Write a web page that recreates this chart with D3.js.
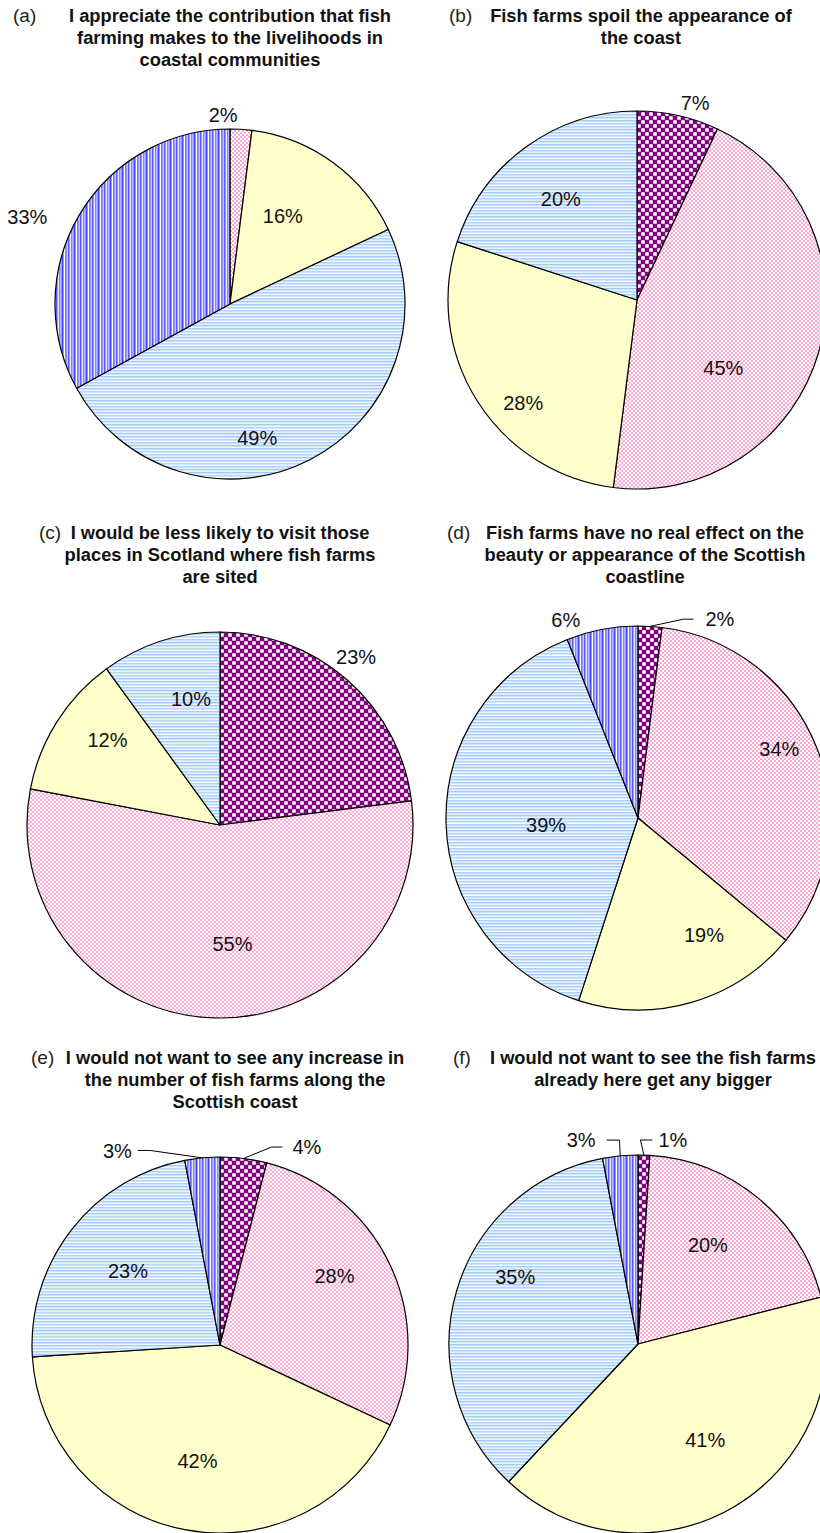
<html lang="en">
<head>
<meta charset="utf-8">
<title>Attitudes to fish farming</title>
<script src="https://d3js.org/d3.v7.min.js"></script>
<style>
  body { margin: 0; background: #fff; }
  text { font-family: "Liberation Sans", Arial, Helvetica, sans-serif; }
</style>
</head>
<body>
<svg id="chart" width="820" height="1533"></svg>
<script>
// response categories, in clockwise order from 12 o'clock
var categories = ["Strongly agree", "Agree", "Neither agree nor disagree", "Disagree", "Strongly disagree"];

// percentages for each statement (same order as categories)
var valuesA = [0, 2, 16, 49, 33];
var valuesB = [7, 45, 28, 20, 0];
var valuesC = [23, 55, 12, 10, 0];
var valuesD = [2, 34, 19, 39, 6];
var valuesE = [4, 28, 42, 23, 3];
var valuesF = [1, 20, 41, 35, 3];

var letters = ["(a)", "(b)", "(c)", "(d)", "(e)", "(f)"];
var titles = [
  ["I appreciate the contribution that fish", "farming makes to the livelihoods in", "coastal communities"],
  ["Fish farms spoil the appearance of", "the coast"],
  ["I would be less likely to visit those", "places in Scotland where fish farms", "are sited"],
  ["Fish farms have no real effect on the", "beauty or appearance of the Scottish", "coastline"],
  ["I would not want to see any increase in", "the number of fish farms along the", "Scottish coast"],
  ["I would not want to see the fish farms", "already here get any bigger"]
];

var allValues = [valuesA, valuesB, valuesC, valuesD, valuesE, valuesF];

// layout of each panel: pie centre / radius, title centre and baseline, letter x
var panels = [
  {cx: 230, cy: 304,  r: 175, tx: 230, ty: 22,   lx: 13},
  {cx: 637, cy: 300,  r: 189, tx: 641, ty: 22,   lx: 449},
  {cx: 220, cy: 825,  r: 193, tx: 220, ty: 539,  lx: 39},
  {cx: 638, cy: 818,  r: 192, tx: 645, ty: 539,  lx: 447},
  {cx: 220, cy: 1345, r: 188, tx: 235, ty: 1064, lx: 31},
  {cx: 638, cy: 1344, r: 189, tx: 653, ty: 1064, lx: 453}
];

// label placement: [angle in degrees clockwise from top, distance as fraction of radius]
var labelPos = [
  [null, [357.9, 1.08], [30.8, 0.59], [168.5, 0.78], [293.2, 1.26]],
  [[16.4, 1.09], [128, 0.58], [228, 0.81], [323, 0.67], null],
  [[39, 1.12], [174, 0.62], [307, 0.73], [347, 0.67], null],
  [[22.4, 1.12], [63.9, 0.82], [150.6, 0.70], [265.6, 0.48], [340, 1.10]],
  [[23.7, 1.15], [59, 0.71], [191, 0.63], [309, 0.63], [332.2, 1.17]],
  [[9.7, 1.095], [35.3, 0.64], [145, 0.62], [298.6, 0.74], [344.4, 1.12]]
];

// leader lines for the small slices: gap to the text and length of the horizontal part
var leaders = [
  [null, null, null, null, null],
  [null, null, null, null, null],
  [null, null, null, null, null],
  [{gap: 12, h: 10}, null, null, null, null],
  [{gap: 10, h: 11}, null, null, null, {gap: 6, h: 12}],
  [{gap: 6, h: 12}, null, null, null, {gap: 11, h: 13}]
];

var svg = d3.select("#chart");
var defs = svg.append("defs");

// build a small tiled fill pattern
function addPattern(id, w, h, bg, rects) {
  var p = defs.append("pattern")
    .attr("id", id)
    .attr("patternUnits", "userSpaceOnUse")
    .attr("width", w)
    .attr("height", h);
  p.append("rect").attr("width", w).attr("height", h).attr("fill", bg);
  rects.forEach(function(q) {
    p.append("rect")
      .attr("x", q[0]).attr("y", q[1])
      .attr("width", q[2]).attr("height", q[3])
      .attr("fill", q[4]);
  });
}

addPattern("purpleCheck", 8, 8, "#800080", [
  [0.25, 0.25, 3.5, 3.5, "#ffffff"], [4.25, 4.25, 3.5, 3.5, "#ffffff"]
]);
addPattern("pinkCheck", 4, 4, "#ffa8d4", [
  [0, 0, 2, 2, "#ffffff"], [2, 2, 2, 2, "#ffffff"]
]);
addPattern("blueHoriz", 4, 12, "#cfe5ff", [
  [0, 0, 4, 1, "#9fcbff"], [0, 2, 4, 1, "#e8f3ff"], [0, 3, 4, 1, "#b5d8ff"],
  [0, 5, 4, 1, "#ffffff"], [0, 6, 4, 1, "#a9d1ff"], [0, 8, 4, 1, "#e2f0ff"],
  [0, 9, 4, 1, "#9fcbff"], [0, 11, 4, 1, "#f2f8ff"]
]);
addPattern("blueVert", 12, 4, "#9999ff", [
  [0, 0, 1, 4, "#4040ff"], [2, 0, 1, 4, "#ffffff"], [3, 0, 1, 4, "#7878ff"],
  [5, 0, 1, 4, "#c8c8ff"], [6, 0, 1, 4, "#5a5aff"], [8, 0, 1, 4, "#ececff"],
  [9, 0, 1, 4, "#8484ff"], [10, 0, 1, 4, "#b0b0ff"]
]);

var fills = ["url(#purpleCheck)", "url(#pinkCheck)", "#ffffcc", "url(#blueHoriz)", "url(#blueVert)"];

var pie = d3.pie().sort(null).value(function(d) { return d; });

panels.forEach(function(pn, i) {
  var g = svg.append("g");

  // panel letter and bold title
  g.append("text")
    .attr("x", pn.lx)
    .attr("y", pn.ty)
    .attr("font-size", "19px")
    .attr("fill", "#222")
    .text(letters[i]);
  titles[i].forEach(function(line, j) {
    g.append("text")
      .attr("x", pn.tx)
      .attr("y", pn.ty + j * 22)
      .attr("text-anchor", "middle")
      .attr("font-size", "18.3px")
      .attr("font-weight", "bold")
      .attr("fill", "#111")
      .text(line);
  });

  var arcs = pie(allValues[i]);
  var arc = d3.arc().innerRadius(0).outerRadius(pn.r);
  var pg = g.append("g").attr("transform", "translate(" + pn.cx + "," + pn.cy + ")");

  pg.selectAll("path")
    .data(arcs.filter(function(d) { return d.value > 0; }))
    .enter()
    .append("path")
    .attr("d", arc)
    .attr("fill", function(d) { return fills[d.index]; })
    .attr("stroke", "#000")
    .attr("stroke-width", 1.2)
    .attr("stroke-linejoin", "round");

  // percentage labels
  arcs.forEach(function(d, k) {
    var lp = labelPos[i][k];
    if (d.value <= 0 || lp == null) return;
    var a = lp[0] * Math.PI / 180;
    var dist = lp[1] * pn.r;
    var x = dist * Math.sin(a);
    var y = -dist * Math.cos(a);
    var t = pg.append("text")
      .attr("x", x)
      .attr("y", y)
      .attr("dy", "0.36em")
      .attr("text-anchor", "middle")
      .attr("font-size", "20px")
      .attr("fill", "#111")
      .text(d.value + "%");

    var ld = leaders[i][k];
    if (ld) {
      var w = t.node().getComputedTextLength();
      var mid = (d.startAngle + d.endAngle) / 2;
      var sx = pn.r * Math.sin(mid);
      var sy = -pn.r * Math.cos(mid);
      var side = x > sx ? 1 : -1;
      var ex = x - side * (w / 2 + ld.gap);
      var bx = ex - side * ld.h;
      pg.append("path")
        .attr("d", d3.line()([[sx, sy], [bx, y], [ex, y]]))
        .attr("fill", "none")
        .attr("stroke", "#000")
        .attr("stroke-width", 1);
    }
  });
});
</script>
</body>
</html>
